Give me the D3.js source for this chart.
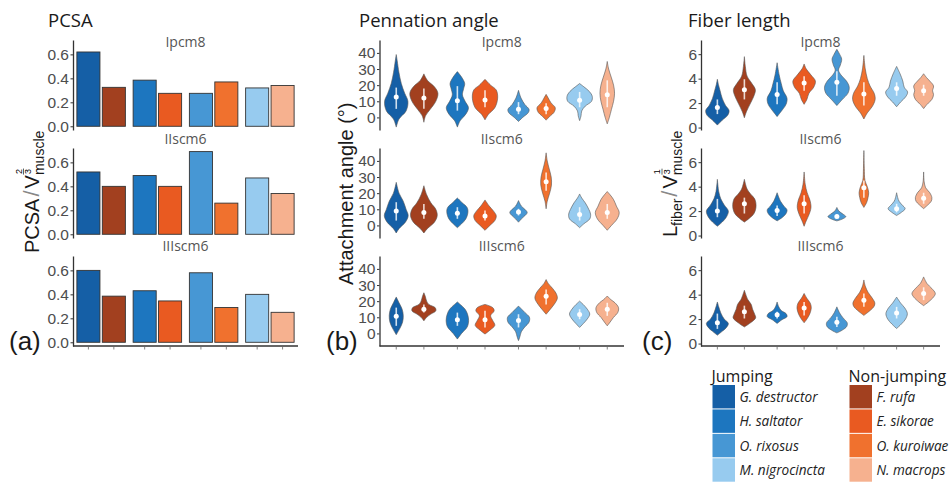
<!DOCTYPE html>
<html>
<head>
<meta charset="utf-8">
<script src="https://cdn.jsdelivr.net/npm/d3@7"></script>
<style>
body { margin: 0; background: #fff; }
svg { display: block; font-family: "Liberation Sans", Arial, sans-serif; }
.title, .strip, .legend { font-family: "Open Sans", sans-serif; }
</style>
</head>
<body>
<svg id="chart" width="952" height="482"></svg>
<script>
// species come in jumping / non-jumping pairs
var jumping = ["G. destructor", "H. saltator", "O. rixosus", "M. nigrocincta"];
var nonJumping = ["F. rufa", "E. sikorae", "O. kuroiwae", "N. macrops"];
var jumpColors = ["#155fa6", "#1d76bf", "#4797d4", "#97cbef"];
var nonColors = ["#a2401f", "#e95a21", "#f0712e", "#f6b18f"];
var muscles = ["Ipcm8", "IIscm6", "IIIscm6"];

// PCSA / V^(2/3), order: G.d, F.r, H.s, E.s, O.r, O.k, M.n, N.m
var pcsaIpcm8 = [0.62, 0.325, 0.385, 0.275, 0.275, 0.37, 0.32, 0.34];
var pcsaIIscm6 = [0.52, 0.40, 0.49, 0.40, 0.69, 0.26, 0.47, 0.34];
var pcsaIIIscm6 = [0.60, 0.385, 0.43, 0.345, 0.58, 0.29, 0.40, 0.25];

// violins: median, white bar (lo, hi), outline as [value, relative half width]
var angleIpcm8 = [
  { med: 12.6, box: [5.3, 18.5], shape: [[-6, 0], [-1, .2], [4, .7], [10, .83], [15, .6], [21, .36], [28, .19], [35, .07], [39, 0]] },
  { med: 12, box: [5.3, 17.9], shape: [[-3, 0], [1, .12], [5, .45], [10, .85], [15, 1], [19, .75], [23, .25], [27, 0]] },
  { med: 10.3, box: [4.2, 19.4], shape: [[-6, 0], [-2, .2], [2, .6], [6, .79], [10, .55], [14, .36], [18, .45], [21, .52], [25, .3], [28.4, 0]] },
  { med: 10.8, box: [6.3, 16.8], shape: [[-1.5, 0], [2, .25], [6, .7], [12, .9], [17, .8], [20, .4], [23.6, 0]] },
  { med: 5, box: [2, 9.5], shape: [[-2.5, 0], [0, .3], [3, .7], [5, .75], [8, .45], [12, .18], [16.8, 0]] },
  { med: 5.5, box: [2, 8.8], shape: [[-1.7, 0], [1, .3], [3, .55], [6, .65], [9, .35], [12, .15], [14.3, 0]] },
  { med: 10.7, box: [6.3, 15.8], shape: [[-2, 0], [1, .1], [4, .15], [7, .4], [10, .85], [13, .9], [16, .7], [19, .3], [21, 0]] },
  { med: 14, box: [6.3, 23], shape: [[-4, 0], [0, .15], [5, .3], [10, .45], [15, .52], [20, .45], [25, .28], [30, .1], [34.7, 0]] }
];
var angleIIscm6 = [
  { med: 9, box: [3, 14.4], shape: [[-4.7, 0], [-2, .2], [2, .65], [6, .85], [10, .7], [15, .5], [20, .2], [26.7, 0]] },
  { med: 8, box: [4.1, 13.3], shape: [[-4.7, 0], [-2, .25], [2, .75], [6, .95], [10, .85], [14, .5], [19, .2], [24.6, 0]] },
  { med: 7.5, box: [4.1, 11.3], shape: [[-1.4, 0], [1, .3], [4, .6], [8, .75], [11, .7], [14, .35], [17, 0]] },
  { med: 5.8, box: [3, 9.2], shape: [[-3, 0], [0, .35], [3, .7], [6, .8], [9, .6], [12, .3], [15.8, 0]] },
  { med: 8.3, box: [6.2, 10.3], shape: [[2, 0], [4, .2], [6, .45], [8, .62], [10, .45], [12, .2], [15.4, 0]] },
  { med: 27, box: [21.5, 32.8], shape: [[10.3, 0], [15, .08], [20, .25], [25, .38], [30, .36], [35, .22], [40, .08], [45, 0]] },
  { med: 6.8, box: [3, 11.3], shape: [[-1.4, 0], [1, .3], [4, .72], [7, .78], [10, .65], [14, .4], [17, .15], [19.5, 0]] },
  { med: 8, box: [4.1, 13.3], shape: [[-3, 0], [0, .3], [4, .7], [8, .85], [12, .65], [16, .45], [19, .2], [21, 0]] }
];
var angleIIIscm6 = [
  { med: 10.7, box: [4.7, 16], shape: [[-0.8, 0], [3, .25], [7, .45], [11, .5], [15, .42], [19, .2], [22.6, 0]] },
  { med: 15, box: [13, 18], shape: [[7.8, 0], [10, .2], [12, .5], [14, .85], [16, .8], [18, .35], [20, .2], [23, .1], [25.2, 0]] },
  { med: 8.5, box: [4.7, 12.9], shape: [[-3.5, 0], [0, .3], [4, .7], [8, .8], [12, .72], [15, .55], [18, .2], [19.5, 0]] },
  { med: 8.5, box: [3.7, 14], shape: [[-0.4, 0], [2, .35], [5, .7], [8, .55], [11, .4], [14, .65], [16, .55], [18, 0]] },
  { med: 8, box: [3.7, 11.9], shape: [[-4.5, 0], [-2, .1], [1, .2], [4, .45], [7, .75], [10, .78], [13, .45], [17, 0]] },
  { med: 23, box: [18, 27.3], shape: [[11.9, 0], [15, .3], [19, .65], [22, .8], [25, .7], [28, .45], [31, .15], [33.4, 0]] },
  { med: 11.8, box: [8.8, 15], shape: [[3.7, 0], [6, .25], [9, .55], [12, .72], [15, .55], [18, .25], [20, 0]] },
  { med: 15, box: [10.9, 19], shape: [[4.7, 0], [7, .2], [10, .45], [13, .75], [16, .8], [19, .55], [21, .25], [23.2, 0]] }
];
var fiberIpcm8 = [
  { med: 1.65, box: [1.1, 2.3], shape: [[0.2, 0], [0.6, .35], [1, .75], [1.4, .85], [1.8, .6], [2.4, .35], [3, .2], [3.5, .08], [3.95, 0]] },
  { med: 3.1, box: [2.3, 3.95], shape: [[0.8, 0], [1.3, .15], [2, .45], [2.6, .7], [3.1, .8], [3.6, .55], [4.2, .2], [5, .07], [5.8, 0]] },
  { med: 2.7, box: [1.9, 3.7], shape: [[0.9, 0], [1.4, .35], [1.9, .65], [2.4, .72], [3, .45], [3.6, .3], [4.3, .15], [5.3, 0]] },
  { med: 3.65, box: [3, 4.2], shape: [[1.9, 0], [2.3, .2], [2.8, .35], [3.3, .7], [3.8, .82], [4.3, .5], [4.8, .15], [5.2, 0]] },
  { med: 3.7, box: [2.6, 4.6], shape: [[1.8, 0], [2.3, .4], [2.8, .8], [3.3, .9], [3.8, .7], [4.3, .3], [4.7, .12], [5.1, .25], [5.6, .35], [6, .2], [6.4, 0]] },
  { med: 2.75, box: [1.8, 3.7], shape: [[0.7, 0], [1.2, .25], [1.7, .6], [2.3, .82], [2.8, .75], [3.4, .45], [4, .25], [4.8, .1], [5.9, 0]] },
  { med: 3.2, box: [2.6, 3.7], shape: [[1.7, 0], [2.1, .3], [2.5, .65], [2.9, .8], [3.3, .55], [3.8, .45], [4.4, .25], [5, 0]] },
  { med: 3, box: [2.6, 3.5], shape: [[1.55, 0], [1.9, .25], [2.3, .6], [2.7, .72], [3, .65], [3.4, .72], [3.8, .45], [4.1, .2], [4.4, 0]] }
];
var fiberIIscm6 = [
  { med: 2, box: [1.5, 3], shape: [[0.76, 0], [1.1, .35], [1.5, .65], [2, .8], [2.5, .5], [3, .25], [3.6, .1], [4.6, 0]] },
  { med: 2.6, box: [1.8, 3.1], shape: [[1.1, 0], [1.4, .35], [1.8, .7], [2.4, .85], [3, .75], [3.4, .45], [3.8, .2], [4.6, 0]] },
  { med: 2.05, box: [1.6, 2.45], shape: [[1.2, 0], [1.5, .4], [1.8, .65], [2.1, .72], [2.4, .5], [2.8, .25], [3.5, 0]] },
  { med: 2.6, box: [1.8, 3.3], shape: [[0.76, 0], [1.2, .15], [1.7, .35], [2.3, .5], [2.9, .42], [3.5, .22], [4.2, .08], [5.2, 0]] },
  { med: 1.55, box: [1.4, 1.7], shape: [[1.2, 0], [1.35, .4], [1.55, .65], [1.75, .45], [2, .15], [2.3, 0]] },
  { med: 3.9, box: [3.1, 4.5], shape: [[2.3, 0], [2.7, .2], [3.1, .3], [3.5, .35], [4, .25], [4.5, .08], [5.5, .03], [6.95, 0]] },
  { med: 2.2, box: [1.9, 2.6], shape: [[1.64, 0], [1.9, .35], [2.2, .62], [2.5, .4], [2.8, .18], [3.1, .08], [3.5, 0]] },
  { med: 3.05, box: [2.6, 3.5], shape: [[2.2, 0], [2.5, .3], [2.8, .55], [3.1, .6], [3.5, .45], [3.9, .15], [4.4, .04], [5.2, 0]] }
];
var fiberIIIscm6 = [
  { med: 1.7, box: [1.2, 2.45], shape: [[0.68, 0], [1, .35], [1.3, .65], [1.65, .8], [2, .5], [2.5, .25], [3, .1], [3.4, 0]] },
  { med: 2.6, box: [2.05, 3.1], shape: [[1.36, 0], [1.7, .45], [2.1, .82], [2.4, .75], [2.8, .6], [3.2, .5], [3.6, .25], [4.36, 0]] },
  { med: 2.35, box: [2.05, 2.6], shape: [[1.64, 0], [1.95, .35], [2.2, .72], [2.45, .65], [2.7, .3], [3, .12], [3.4, 0]] },
  { med: 2.9, box: [2.3, 3.4], shape: [[1.7, 0], [2, .2], [2.4, .4], [2.9, .52], [3.3, .45], [3.7, .2], [4.1, 0]] },
  { med: 1.75, box: [1.36, 2.2], shape: [[0.87, 0], [1.1, .4], [1.4, .72], [1.7, .75], [2.1, .45], [2.5, .2], [3, 0]] },
  { med: 3.55, box: [3, 4.1], shape: [[2.3, 0], [2.7, .45], [3, .72], [3.3, .8], [3.7, .62], [4.2, .3], [4.7, .1], [5.2, 0]] },
  { med: 2.5, box: [2.05, 3], shape: [[1.23, 0], [1.6, .35], [2, .65], [2.45, .78], [2.9, .6], [3.3, .3], [3.8, 0]] },
  { med: 4.1, box: [3.55, 4.6], shape: [[3.1, 0], [3.4, .35], [3.8, .72], [4.1, .85], [4.5, .6], [4.9, .25], [5.45, 0]] }
];

var pcsaTicks = [0, 0.2, 0.4, 0.6],
    angleTicks = [0, 10, 20, 30, 40],
    fiberTicks = [0, 2, 4, 6];

// interleave pairs: jumping then non-jumping
var species = d3.range(4).flatMap(function (g) { return [jumping[g], nonJumping[g]]; });
var color = d3.scaleOrdinal()
    .domain(species)
    .range(d3.range(4).flatMap(function (g) { return [jumpColors[g], nonColors[g]]; }));

var svg = d3.select("#chart");
var rowTop = [40, 148, 256], rowH = 90;
var stripY = [46.5, 143.5, 251];
var tickColor = "#4d4d4d", lineColor = "#333";

var columns = [
  { title: "PCSA", titleX: 48, left: 73, right: 298, domain: [-0.031, 0.72], ticks: pcsaTicks,
    fmt: d3.format(".1f"), sets: [pcsaIpcm8, pcsaIIscm6, pcsaIIIscm6], kind: "bar", tag: "(a)", tagX: 9 },
  { title: "Pennation angle", titleX: 359, left: 379.5, right: 624, domain: [-7.8, 48], ticks: angleTicks,
    fmt: d3.format("d"), sets: [angleIpcm8, angleIIscm6, angleIIIscm6], kind: "violin", tag: "(b)", tagX: 326 },
  { title: "Fiber length", titleX: 688, left: 701, right: 940, domain: [-0.2, 7.16], ticks: fiberTicks,
    fmt: d3.format("d"), sets: [fiberIpcm8, fiberIIscm6, fiberIIIscm6], kind: "violin", tag: "(c)", tagX: 642 }
];

columns.forEach(function (col) {
  var xg = d3.scaleBand().domain(d3.range(4)).range([col.left, col.right]);
  var step = xg.step();
  var cx = function (i) { return xg(Math.floor(i / 2)) + step / 2 + (i % 2 ? 1 : -1) * 0.226 * step; };
  var halfW = d3.scaleLinear().domain([0, 1]).range([0, 0.23 * step]);

  svg.append("text").attr("class", "title")
      .attr("x", col.titleX).attr("y", 27)
      .attr("font-size", 18.5).attr("fill", "#1a1a1a")
      .text(col.title);

  svg.append("text")
      .attr("x", col.tagX).attr("y", 349.5)
      .attr("font-size", 26).attr("fill", "#1a1a1a")
      .text(col.tag);

  muscles.forEach(function (m, r) {
    var top = rowTop[r];
    var y = d3.scaleLinear().domain(col.domain).range([top + rowH, top]);
    var g = svg.append("g");
    var values = col.sets[r];

    svg.append("text").attr("class", "strip")
        .attr("x", (col.left + col.right) / 2).attr("y", stripY[r])
        .attr("text-anchor", "middle")
        .attr("font-size", 14).attr("fill", "#555")
        .text(m);

    if (col.kind === "bar") {
      var bw = 0.41 * step;
      g.selectAll("rect").data(values).enter().append("rect")
          .attr("x", function (d, i) { return cx(i) - bw / 2; })
          .attr("y", function (d) { return y(d); })
          .attr("width", bw)
          .attr("height", function (d) { return y(0) - y(d); })
          .attr("fill", function (d, i) { return color(species[i]); })
          .attr("stroke", "#333").attr("stroke-width", 0.9);
    } else {
      values.forEach(function (v, i) {
        var c = cx(i);
        var area = d3.area()
            .curve(d3.curveCatmullRom.alpha(0.5))
            .y(function (d) { return y(d[0]); })
            .x0(function (d) { return c - halfW(d[1]); })
            .x1(function (d) { return c + halfW(d[1]); });
        g.append("path")
            .datum(v.shape)
            .attr("d", area)
            .attr("fill", color(species[i]))
            .attr("stroke", "#555").attr("stroke-width", 0.6);
        g.append("line")
            .attr("x1", c).attr("x2", c)
            .attr("y1", y(v.box[0])).attr("y2", y(v.box[1]))
            .attr("stroke", "#fff").attr("stroke-opacity", 0.8).attr("stroke-width", 1.6);
        g.append("circle")
            .attr("cx", c).attr("cy", y(v.med)).attr("r", 2.5)
            .attr("fill", "#fff");
      });
    }

    // left axis
    var ax = svg.append("g")
        .attr("transform", "translate(" + col.left + ",0)")
        .call(d3.axisLeft(y).tickValues(col.ticks).tickFormat(col.fmt).tickSizeInner(2.5).tickSizeOuter(0).tickPadding(1.5));
    ax.select(".domain").attr("stroke", lineColor).attr("stroke-width", 1.3);
    ax.selectAll(".tick line").attr("stroke", lineColor);
    ax.selectAll(".tick text").attr("fill", tickColor).attr("font-size", 15.5)
        .attr("font-family", "Liberation Sans, Arial, sans-serif");

    // bottom axis on the last row only
    if (r === muscles.length - 1) {
      var base = top + rowH;
      svg.append("line")
          .attr("x1", col.left).attr("x2", col.right)
          .attr("y1", base).attr("y2", base)
          .attr("stroke", lineColor).attr("stroke-width", 1.3);
      svg.selectAll(null).data(species).enter().append("line")
          .attr("x1", function (d, i) { return cx(i); })
          .attr("x2", function (d, i) { return cx(i); })
          .attr("y1", base).attr("y2", base + 3.5)
          .attr("stroke", "#666").attr("stroke-width", 0.8);
    }
  });
});

// rotated axis titles with super / subscripts
function axisTitle(x, y, parts) {
  var g = svg.append("g").attr("transform", "translate(" + x + "," + y + ") rotate(-90)");
  var cursor = 0;
  parts.forEach(function (p) {
    if (p.frac) {
      var a = g.append("text").attr("x", cursor + 1).attr("y", -17).attr("font-size", 9).text(p.frac[0]);
      var b = g.append("text").attr("x", cursor + 1).attr("y", -7.5).attr("font-size", 9).text(p.frac[1]);
      var w = Math.max(a.node().getComputedTextLength(), b.node().getComputedTextLength());
      g.append("line").attr("x1", cursor + 0.5).attr("x2", cursor + w + 1.5)
          .attr("y1", -15).attr("y2", -15).attr("stroke", "#1a1a1a").attr("stroke-width", 0.7);
      return;
    }
    var t = g.append("text")
        .attr("x", cursor + (p.gap || 0))
        .attr("y", p.sub ? 5 : 0)
        .attr("font-size", p.sub ? 14 : (p.size || 20))
        .attr("fill", p.fill || "#1a1a1a")
        .text(p.text);
    cursor += (p.gap || 0) * 2 + t.node().getComputedTextLength();
  });
}

axisTitle(38.5, 253, [
  { text: "PCSA" }, { text: "/", gap: 2, size: 22, fill: "#888" }, { text: "V" },
  { frac: ["2", "3"] }, { text: "muscle", sub: true }
]);
axisTitle(353, 285, [{ text: "Attachment angle (°)" }]);
axisTitle(677, 237, [
  { text: "L" }, { text: "fiber", sub: true }, { text: "/", gap: 2, size: 22, fill: "#888" }, { text: "V" },
  { frac: ["1", "3"] }, { text: "muscle", sub: true }
]);

// legend
var rows = d3.scaleBand().domain(d3.range(4)).range([385, 482.7]);
[{ title: "Jumping", names: jumping, cols: jumpColors, x: 712.5 },
 { title: "Non-jumping", names: nonJumping, cols: nonColors, x: 849.5 }].forEach(function (grp) {
  var lg = svg.append("g").attr("class", "legend");
  lg.append("text").attr("x", grp.x - 1).attr("y", 381.5)
      .attr("font-size", 16).attr("fill", "#1a1a1a").text(grp.title);
  lg.selectAll("rect").data(grp.names).enter().append("rect")
      .attr("x", grp.x).attr("y", function (d, i) { return rows(i); })
      .attr("width", 22.5).attr("height", rows.step() - 1)
      .attr("fill", function (d, i) { return grp.cols[i]; });
  lg.selectAll("text.lab").data(grp.names).enter().append("text")
      .attr("class", "lab")
      .attr("x", grp.x + 27).attr("y", function (d, i) { return rows(i) + 17; })
      .attr("font-size", 13.6).attr("font-style", "italic").attr("fill", "#222")
      .text(function (d) { return d; });
});
</script>
</body>
</html>
